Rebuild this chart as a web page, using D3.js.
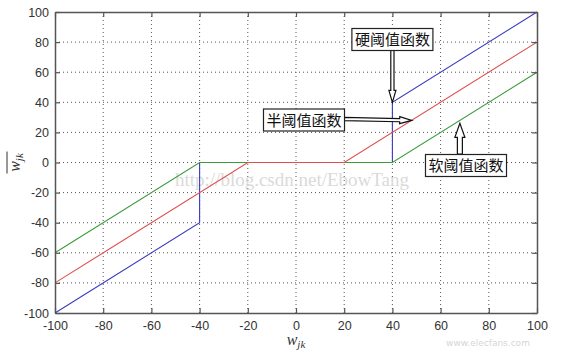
<!DOCTYPE html>
<html>
<head>
<meta charset="utf-8">
<script src="https://cdn.jsdelivr.net/npm/d3@7"></script>
<style>
  body { margin: 0; background: #fff; }
  svg { display: block; }
</style>
</head>
<body>
<svg id="chart" width="561" height="358"></svg>
<script>
// ---- data ----
const ticks = [-100, -80, -60, -40, -20, 0, 20, 40, 60, 80, 100];

// hard threshold (blue)
const hardX = [-100, -40, -40, 40, 40, 100];
const hardY = [-100, -40, 0, 0, 40, 100];
// soft threshold (green)
const softX = [-100, -40, 40, 100];
const softY = [-60, 0, 0, 60];
// semi threshold (red)
const semiX = [-100, -20, 20, 100];
const semiY = [-80, 0, 0, 80];

const seriesNames = ["硬阈值函数", "软阈值函数", "半阈值函数"];
const seriesColors = ["#3b3bc4", "#3c9c3c", "#e04c4c"];

// annotation arrow tips (data coords)
const tipX = [40, 68, 48];
const tipY = [40, 26, 28];

// ---- layout ----
const svg = d3.select("#chart");
const L = 55, R = 537, T = 12, B = 313;
const x = d3.scaleLinear().domain([-100, 100]).range([L, R]);
const y = d3.scaleLinear().domain([-100, 100]).range([B, T]);

// grid
const grid = svg.append("g").attr("stroke", "#555").attr("stroke-width", 1)
  .attr("stroke-dasharray", "1,3");
ticks.slice(1, -1).forEach(t => {
  grid.append("line").attr("x1", x(t)).attr("x2", x(t)).attr("y1", T).attr("y2", B);
  grid.append("line").attr("x1", L).attr("x2", R).attr("y1", y(t)).attr("y2", y(t));
});

// watermark
svg.append("text").attr("x", 175).attr("y", 186)
  .attr("font-family", "Liberation Serif, serif").attr("font-size", 19)
  .attr("fill", "#dadada").text("http://blog.csdn.net/EbowTang");

// lines
const line = d3.line().x(d => x(d[0])).y(d => y(d[1]));
const series = [
  { xs: hardX, ys: hardY, c: seriesColors[0] },
  { xs: softX, ys: softY, c: seriesColors[1] },
  { xs: semiX, ys: semiY, c: seriesColors[2] }
];
series.forEach(s => {
  svg.append("path").datum(s.xs.map((v, i) => [v, s.ys[i]]))
    .attr("d", line).attr("fill", "none")
    .attr("stroke", s.c).attr("stroke-width", 1.1);
});

// axes (box with inward ticks on all sides)
const axisCol = "#555";
const fmt = d => String(d); // plain hyphen like matlab
const axB = svg.append("g").attr("transform", `translate(0,${B})`)
  .call(d3.axisBottom(x).tickValues(ticks).tickSizeInner(-5).tickSizeOuter(0).tickPadding(8).tickFormat(fmt));
const axL = svg.append("g").attr("transform", `translate(${L},0)`)
  .call(d3.axisLeft(y).tickValues(ticks).tickSizeInner(-5).tickSizeOuter(0).tickPadding(6).tickFormat(fmt));
const axT = svg.append("g").attr("transform", `translate(0,${T})`)
  .call(d3.axisTop(x).tickValues(ticks).tickSizeInner(-5).tickSizeOuter(0).tickFormat(""));
const axR = svg.append("g").attr("transform", `translate(${R},0)`)
  .call(d3.axisRight(y).tickValues(ticks).tickSizeInner(-5).tickSizeOuter(0).tickFormat(""));
[axB, axL, axT, axR].forEach(g => {
  g.selectAll("path").attr("stroke", axisCol).attr("stroke-width", 1.5);
  g.selectAll("line").attr("stroke", axisCol).attr("stroke-width", 1.2);
  g.selectAll("text").attr("font-family", "Liberation Sans, Arial, sans-serif")
    .attr("font-size", 12.5).attr("fill", "#333");
});

// axis labels
svg.append("text").attr("x", x(0)).attr("y", 345).attr("text-anchor", "middle")
  .attr("font-family", "Liberation Serif, serif").attr("font-style", "italic")
  .attr("font-size", 16).attr("fill", "#333")
  .html('w<tspan font-size="11" dy="3">jk</tspan>');
const yl = svg.append("g").attr("transform", `translate(20,${y(0)}) rotate(-90)`);
yl.append("text").attr("x", 0).attr("y", 0).attr("text-anchor", "middle")
  .attr("font-family", "Liberation Serif, serif").attr("font-style", "italic")
  .attr("font-size", 16).attr("fill", "#333")
  .html('w<tspan font-size="11" dy="3">jk</tspan>');
yl.append("line").attr("x1", -11).attr("x2", 11).attr("y1", -13).attr("y2", -13)
  .attr("stroke", "#333").attr("stroke-width", 1);

// hollow arrow helper
function hollowArrow(x1, y1, x2, y2, sw, hw, hl) {
  const dx = x2 - x1, dy = y2 - y1, len = Math.hypot(dx, dy);
  const a = Math.atan2(dy, dx) * 180 / Math.PI;
  const pts = [[0, -sw], [len - hl, -sw], [len - hl, -hw], [len, 0],
               [len - hl, hw], [len - hl, sw], [0, sw]];
  svg.append("polygon").attr("points", pts.map(p => p.join(",")).join(" "))
    .attr("transform", `translate(${x1},${y1}) rotate(${a})`)
    .attr("fill", "#fff").attr("stroke", "#111").attr("stroke-width", 1.2);
}

function labelBox(cx, cy, text) {
  const g = svg.append("g");
  const t = g.append("text").attr("x", cx).attr("y", cy + 5.5).attr("text-anchor", "middle")
    .attr("font-family", "Noto Sans CJK SC, sans-serif").attr("font-size", 15)
    .attr("fill", "#111").text(text);
  const bb = t.node().getBBox();
  g.insert("rect", "text").attr("x", bb.x - 3).attr("y", cy - 11)
    .attr("width", bb.width + 6).attr("height", 22)
    .attr("fill", "#fff").attr("stroke", "#222").attr("stroke-width", 1.2);
}

// hard threshold annotation
hollowArrow(x(tipX[0]), 50, x(tipX[0]), y(tipY[0]), 1.6, 3.5, 12);
labelBox(x(tipX[0]), 39.5, seriesNames[0]);
// soft threshold annotation
hollowArrow(x(tipX[1]), 154, x(tipX[1]), y(tipY[1]), 2.5, 5, 14);
labelBox(466, 165.5, seriesNames[1]);
// semi threshold annotation
hollowArrow(344, 119, x(tipX[2]), y(tipY[2]), 1.6, 3.5, 12);
labelBox(304, 120, seriesNames[2]);

// site watermark
svg.append("text").attr("x", 488).attr("y", 346).attr("text-anchor", "middle")
  .attr("font-family", "DejaVu Sans, sans-serif").attr("font-size", 9)
  .attr("fill", "#d6d6d6").text("www.elecfans.com");
</script>
</body>
</html>
